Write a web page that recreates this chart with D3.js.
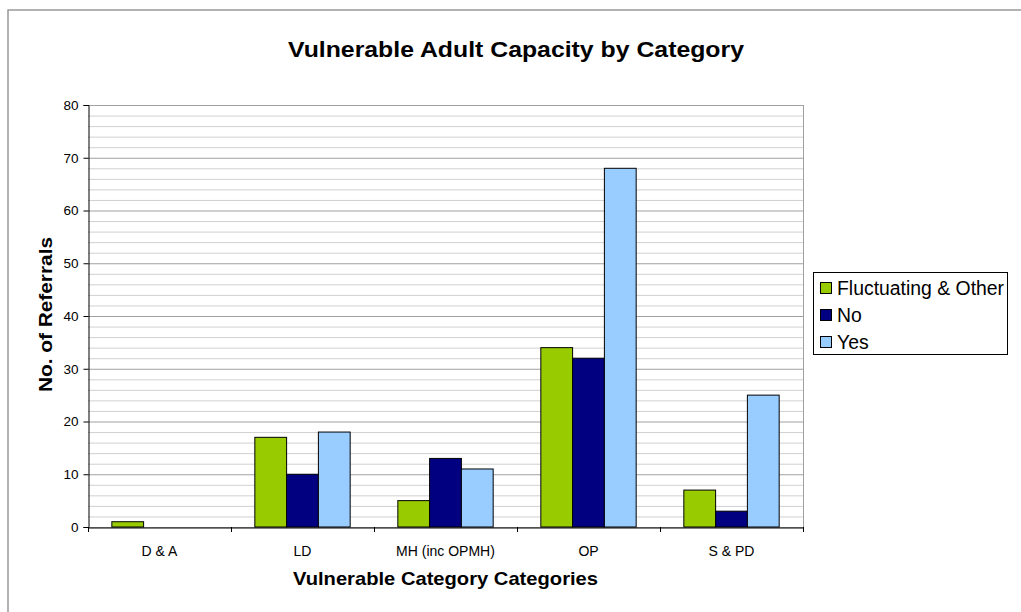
<!DOCTYPE html>
<html><head><meta charset="utf-8">
<script src="https://cdn.jsdelivr.net/npm/d3@7"></script>
<style>body{margin:0;background:#fff}svg{display:block}text{font-family:"Liberation Sans",Arial,sans-serif}</style>
</head><body><svg id="c" width="1021" height="612"></svg>
<script>
const categories = ["D & A","LD","MH (inc OPMH)","OP","S & PD"];
const seriesNames = ["Fluctuating & Other","No","Yes"];
const fluctuating = [1,17,5,34,7];
const no = [0,10,13,32,3];
const yes = [0,18,11,68,25];
const colors = ["#99cc00","#000080","#99ccff"];
const yTicks = [0,10,20,30,40,50,60,70,80];

const svg = d3.select("#c");
svg.append("rect").attr("x",8).attr("y",10).attr("width",1030).attr("height",620)
  .attr("fill","#fff").attr("stroke","#999").attr("stroke-width",1.5);

const L=88,R=803,T=105,B=527;
const x = d3.scaleBand().domain(categories).range([L,R]);
const y = d3.scaleLinear().domain([0,80]).range([B,T]);
const inner = d3.scaleBand().domain(seriesNames).range([0,x.bandwidth()]).paddingInner(0).paddingOuter(0.75);

// gridlines
const minor = d3.range(0,81,2);
svg.append("g").selectAll("line").data(minor).join("line")
  .attr("x1",L).attr("x2",R).attr("y1",d=>y(d)+0.5).attr("y2",d=>y(d)+0.5)
  .attr("stroke",d=>d%10===0?"#a0a0a0":"#d0d0d0").attr("stroke-width",1);
svg.append("line").attr("x1",R+0.5).attr("x2",R+0.5).attr("y1",T).attr("y2",B).attr("stroke","#a0a0a0");

const data = [fluctuating,no,yes];
const g = svg.append("g");
data.forEach((vals,si)=>{
  g.selectAll(null).data(vals.map((v,i)=>({v,c:categories[i]})).filter(d=>d.v>0)).join("rect")
    .attr("x",d=>x(d.c)+inner(seriesNames[si]))
    .attr("y",d=>y(d.v))
    .attr("width",inner.bandwidth())
    .attr("height",d=>B-y(d.v))
    .attr("fill",colors[si]).attr("stroke","#000").attr("stroke-width",1);
});

// y axis
const ya = svg.append("g").attr("transform",`translate(${L+0.5},0)`)
  .call(d3.axisLeft(y).tickValues(yTicks).tickSize(5).tickPadding(5));
ya.select(".domain").attr("stroke","#000");
ya.selectAll("text").attr("font-size",13.5).attr("fill","#000").attr("font-family","Liberation Sans, Arial");

// x axis
const xa = svg.append("g").attr("transform",`translate(0,${B+0.5})`)
  .call(d3.axisBottom(x).tickSize(0).tickPadding(19));
xa.select(".domain").attr("stroke","#000");
xa.selectAll("text").attr("font-size",14).attr("fill","#000").attr("font-family","Liberation Sans, Arial");
const bounds = categories.map(c=>x(c)).concat([R]);
svg.append("g").selectAll("line").data(bounds).join("line")
  .attr("x1",d=>Math.round(d)+0.5).attr("x2",d=>Math.round(d)+0.5).attr("y1",B).attr("y2",B+5).attr("stroke","#000");

// titles
svg.append("text").attr("x",288).attr("y",57).attr("textLength",456).attr("lengthAdjust","spacingAndGlyphs")
  .attr("font-size",22).attr("font-weight","bold").text("Vulnerable Adult Capacity by Category");
svg.append("text").attr("x",293).attr("y",585).attr("textLength",305).attr("lengthAdjust","spacingAndGlyphs")
  .attr("font-size",19).attr("font-weight","bold").text("Vulnerable Category Categories");
svg.append("text").attr("transform","translate(52,392) rotate(-90)").attr("textLength",155).attr("lengthAdjust","spacingAndGlyphs")
  .attr("font-size",19).attr("font-weight","bold").text("No. of Referrals");

// legend
const lg = svg.append("g");
lg.append("rect").attr("x",813.5).attr("y",272.5).attr("width",194).attr("height",82).attr("fill","#fff").attr("stroke","#000");
seriesNames.forEach((n,i)=>{
  const yy = 288 + i*27;
  lg.append("rect").attr("x",820.5).attr("y",yy-5.5).attr("width",11).attr("height",11).attr("fill",colors[i]).attr("stroke","#000");
  lg.append("text").attr("x",837).attr("y",yy+7).attr("font-size",19.4).text(n);
});
</script></body></html>
